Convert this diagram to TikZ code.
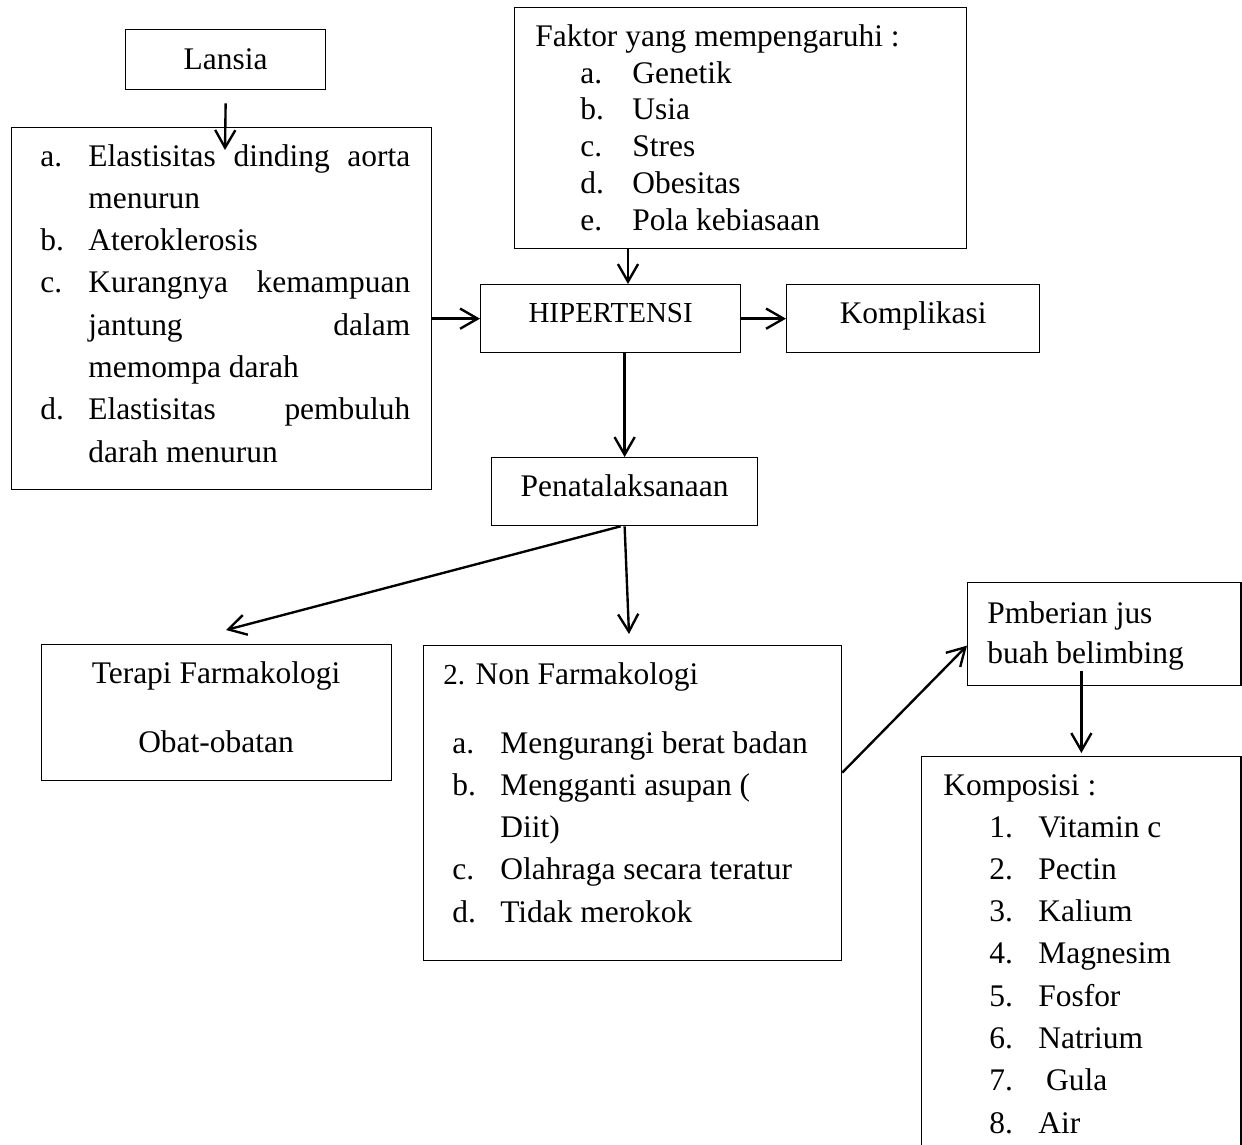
\documentclass[tikz,border=0pt]{standalone}
\usepackage{fontspec}
\setmainfont{Liberation Serif}
\usetikzlibrary{arrows.meta,calc}
\setlength{\parindent}{0pt}
\newcommand\jline[1]{\makebox[6.44cm][s]{#1}}
\newcommand\lbl[2]{\llap{\makebox[#1][l]{#2}}}
\newcommand\smallfnt{\fontsize{16.5pt}{20pt}\selectfont}

\begin{document}
\begin{tikzpicture}[x=0.02cm,y=-0.02cm,font=\fontsize{17.9pt}{21pt}\selectfont]
\tikzset{
  boxnode/.style={draw,line width=0.75pt,inner sep=0pt,anchor=north west},
  txt/.style={inner sep=0pt,anchor=base west},
  ctxt/.style={inner sep=0pt,anchor=base},
  arr/.style={line width=1.35pt,-{Straight Barb[length=10pt,width=11.5pt]}}
}
\useasboundingbox (0,0) rectangle (1242,1144);

\node[boxnode,minimum width=4cm,minimum height=1.2cm,text height=0.8cm,text depth=0.4cm] (ls) at (125,29) {Lansia};
\node[boxnode,minimum width=5.2cm,minimum height=1.36cm,text height=0.76cm,text depth=0.6cm,font=\smallfnt] (hp) at (480,284) {HIPERTENSI};
\node[boxnode,minimum width=5.06cm,minimum height=1.36cm,text height=0.78cm,text depth=0.58cm] (kp) at (786,284) {Komplikasi};
\node[boxnode,minimum width=5.32cm,minimum height=1.36cm,text height=0.78cm,text depth=0.58cm] (pn) at (491,457) {Penatalaksanaan};

\node[boxnode,minimum width=8.4cm,minimum height=7.24cm] (lr) at (11,127) {};
\node[boxnode,minimum width=9.04cm,minimum height=4.82cm] (fb) at (514,7) {};
\node[boxnode,minimum width=7cm,minimum height=2.72cm] (tf) at (41,644) {};
\node[boxnode,minimum width=8.36cm,minimum height=6.3cm] (nf) at (423,645) {};
\node[boxnode,minimum width=5.47cm,minimum height=2.06cm] (pj) at (967,582) {};
\node[boxnode,minimum width=6.39cm,minimum height=8.6cm] (kb) at (921,756) {};

\foreach \lb/\tx [count=\i from 0] in {a./\jline{Elastisitas dinding aorta},/menurun,b./Ateroklerosis,c./\jline{Kurangnya kemampuan},/\jline{jantung dalam},/memompa darah,d./\jline{Elastisitas pembuluh},/darah menurun}
  \node[txt] (lr\i) at (88,166+42.3*\i) {\lbl{0.96cm}{\lb}\tx};

\node[txt] (fbhead) at (535,46) {Faktor yang mempengaruhi :};
\foreach \lb/\tx [count=\i from 0] in {a./Genetik,b./Usia,c./Stres,d./Obesitas,e./Pola kebiasaan}
  \node[txt] (fb\i) at (632,83+36.8*\i) {\lbl{1.04cm}{\lb}\tx};

\node[ctxt] (tfhead) at (216,683) {Terapi Farmakologi};
\node[ctxt] (tfobat) at (216,752) {Obat-obatan};

\node[txt] (nfhead) at (443,684) {{\smallfnt 2.} Non Farmakologi};
\foreach \lb/\tx [count=\i from 0] in {a./Mengurangi berat badan,b./Mengganti asupan (,/Diit),c./Olahraga secara teratur,d./Tidak merokok}
  \node[txt] (nf\i) at (500,753+42.3*\i) {\lbl{0.96cm}{\lb}\tx};

\node[txt] (pj0) at (987,623) {Pmberian jus};
\node[txt] (pj1) at (987,663) {buah belimbing};

\node[txt] (kbhead) at (943,795) {Komposisi :};
\foreach \lb/\tx [count=\i from 0] in {1./Vitamin c,2./Pectin,3./Kalium,4./Magnesim,5./Fosfor,6./Natrium,7./\ Gula,8./Air}
  \node[txt] (kb\i) at (1038,837+42.3*\i) {\lbl{0.98cm}{\lb}\tx};

\coordinate (lrin) at (225,150);
\coordinate (hpin) at (628,284);
\coordinate (tfin) at (226,630);
\coordinate (nfin) at (629,634);

\draw[arr] ([yshift=-0.26cm]ls.south) -- (lrin);
\draw[arr] (fb.south -| hpin) -- (hpin);
\draw[arr] (lr.east |- hp.west) -- (hp.west);
\draw[arr] (hp.east) -- (kp.west);
\draw[arr] (hp.south -| pn.north) -- (pn.north);
\draw[arr] ([xshift=-0.08cm]pn.south) -- (tfin);
\draw[arr] (pn.south) -- (nfin);
\draw[arr] ([yshift=0.61cm]nf.east) -- ([yshift=-0.23cm]pj.west);
\draw[arr] ([yshift=0.3cm]pj.south -| kb.north) -- ([yshift=0.06cm]kb.north);

\end{tikzpicture}
\end{document}
